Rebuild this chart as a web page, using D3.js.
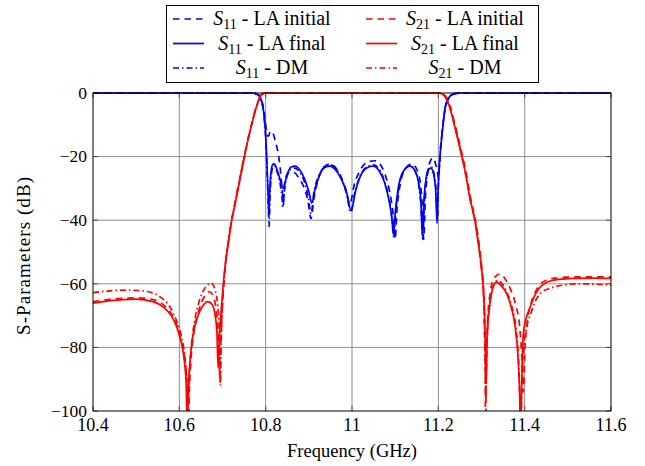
<!DOCTYPE html>
<head>
  <meta charset="utf-8" />
  <script src="https://d3js.org/d3.v7.min.js"></script>
  <style>
    body {
      margin: 0;
      background: #fff;
    }
  </style>
</head>

<body>
  <script>
    // axes ticks
    var xTicks = [10.4, 10.6, 10.8, 11, 11.2, 11.4, 11.6];
    var xTickLabels = ["10.4", "10.6", "10.8", "11", "11.2", "11.4", "11.6"];
    var yTicks = [0, -20, -40, -60, -80, -100];
    var yTickLabels = ["0", "\u221220", "\u221240", "\u221260", "\u221280", "\u2212100"];

    // S11 (reflection), [GHz, dB]
    var s11Initial = [[10.4,0],[10.772,0],[10.779,-0.3],[10.786,-1],[10.790,-2.2],[10.794,-4],[10.798,-7.5],[10.801,-11],[10.804,-13.5],[10.807,-13.5],[10.810,-12.3],[10.813,-12],[10.818,-13],[10.823,-15.5],[10.829,-19],[10.834,-24],[10.838,-30],[10.841,-34],[10.844,-29],[10.848,-26],[10.856,-24.8],[10.866,-25],[10.876,-26.5],[10.888,-29.5],[10.898,-34],[10.905,-39.5],[10.912,-33],[10.922,-27],[10.935,-23.2],[10.949,-22.3],[10.962,-23.5],[10.975,-26.5],[10.986,-30.5],[10.995,-35],[11.005,-29],[11.018,-24.5],[11.035,-21.8],[11.053,-21.3],[11.068,-23],[11.080,-27],[11.090,-33],[11.096,-39],[11.100,-46],[11.104,-37],[11.112,-28.5],[11.124,-23.8],[11.138,-22.3],[11.150,-24],[11.158,-28],[11.163,-36],[11.166,-46],[11.170,-33],[11.176,-24.5],[11.183,-21],[11.188,-20.4],[11.193,-22],[11.198,-25],[11.2005,-26.7],[11.203,-22],[11.206,-16],[11.209,-12],[11.212,-8.5],[11.216,-5],[11.220,-3],[11.226,-1.2],[11.234,-0.4],[11.245,-0.1],[11.26,0],[11.6,0]];
    var s11Final = [[10.4,0],[10.770,0],[10.778,-0.3],[10.785,-0.8],[10.788,-1.5],[10.791,-2.8],[10.794,-4.5],[10.797,-8],[10.800,-13],[10.802,-19],[10.804,-26],[10.806,-33],[10.8075,-39],[10.809,-32],[10.812,-25.5],[10.816,-22.6],[10.820,-22.3],[10.826,-24],[10.833,-27],[10.838,-29.5],[10.841,-30],[10.845,-28],[10.852,-24.8],[10.860,-23.2],[10.868,-23],[10.878,-24],[10.890,-27],[10.900,-31],[10.907,-34.6],[10.914,-30.5],[10.925,-25.8],[10.937,-23.4],[10.949,-23],[10.962,-24.2],[10.975,-27],[10.988,-31.5],[10.998,-37],[11.008,-31],[11.020,-26],[11.035,-23.5],[11.049,-23],[11.063,-24.5],[11.075,-28],[11.086,-34],[11.092,-39],[11.096,-44.5],[11.100,-38],[11.107,-30],[11.118,-24.8],[11.134,-23],[11.146,-24.5],[11.154,-28],[11.160,-35],[11.163,-45],[11.167,-33],[11.172,-26.5],[11.178,-23.9],[11.183,-23.6],[11.189,-25.5],[11.194,-31],[11.197,-41],[11.199,-32],[11.2015,-24.6],[11.205,-18],[11.208,-14],[11.211,-10],[11.2155,-4.7],[11.221,-2.2],[11.227,-1],[11.235,-0.3],[11.245,0],[11.6,0]];
    var s11DM = [[10.4,0],[10.770,0],[10.778,-0.3],[10.785,-0.9],[10.788,-1.6],[10.791,-3],[10.794,-5],[10.797,-8.5],[10.800,-14],[10.802,-20],[10.804,-27],[10.806,-35],[10.808,-42],[10.810,-33],[10.813,-26],[10.817,-23.2],[10.821,-23],[10.827,-25],[10.834,-29],[10.838,-33],[10.840,-36],[10.844,-30],[10.850,-26],[10.858,-24],[10.867,-23.6],[10.878,-24.8],[10.890,-28],[10.899,-33],[10.905,-38],[10.912,-31],[10.924,-25.8],[10.937,-23.2],[10.950,-22.6],[10.963,-23.8],[10.976,-27],[10.988,-32],[10.997,-37.5],[11.007,-31],[11.020,-25.8],[11.035,-23.2],[11.050,-22.6],[11.064,-24.2],[11.076,-28],[11.087,-34],[11.093,-40],[11.097,-45.5],[11.101,-38],[11.108,-30],[11.119,-24.8],[11.134,-22.8],[11.146,-24.5],[11.154,-28.5],[11.160,-36],[11.164,-46],[11.168,-33],[11.173,-26.5],[11.179,-23.5],[11.184,-23.3],[11.190,-25.5],[11.195,-31],[11.198,-40],[11.200,-30],[11.202,-24],[11.205,-17.5],[11.208,-13],[11.211,-9.5],[11.215,-5.5],[11.220,-2.5],[11.227,-1],[11.236,-0.3],[11.246,0],[11.6,0]];

    // S21 (transmission), [GHz, dB]
    var s21Initial = [[10.4,-65.6],[10.45,-64.8],[10.5,-64.4],[10.54,-65],[10.57,-67.5],[10.59,-71.5],[10.603,-77],[10.611,-82],[10.616,-88],[10.619,-95],[10.621,-108],[10.623,-95],[10.627,-84],[10.634,-75],[10.645,-68.5],[10.658,-64],[10.670,-62.5],[10.679,-64],[10.685,-68],[10.689,-74],[10.692,-82],[10.694,-90],[10.696,-80],[10.698,-72],[10.701,-64],[10.704,-58],[10.708,-52.5],[10.712,-48.3],[10.720,-41],[10.728,-35.5],[10.736,-30],[10.743,-25.2],[10.751,-19.8],[10.759,-14.8],[10.767,-10.2],[10.775,-6],[10.782,-3],[10.787,-1.2],[10.792,-0.4],[10.8,0],[11.2,0],[11.207,-0.2],[11.212,-0.5],[11.217,-1.1],[11.223,-2.6],[11.229,-4.9],[11.235,-8],[11.241,-11.2],[11.252,-17.5],[11.264,-24.8],[11.275,-33.2],[11.287,-40.8],[11.295,-48],[11.301,-55.5],[11.305,-62],[11.307,-72],[11.3085,-85],[11.3095,-108],[11.311,-85],[11.314,-72],[11.320,-63],[11.330,-58],[11.343,-56.9],[11.355,-58.5],[11.368,-62],[11.380,-67],[11.388,-73],[11.393,-82],[11.397,-94],[11.400,-82],[11.405,-73],[11.413,-67],[11.425,-62.5],[11.437,-60],[11.452,-58.8],[11.47,-58.2],[11.5,-57.9],[11.55,-57.8],[11.6,-57.8]];
    var s21Final = [[10.4,-66.1],[10.44,-65.3],[10.5,-64.8],[10.539,-65.6],[10.570,-68.2],[10.589,-71.9],[10.601,-76.6],[10.608,-80.8],[10.613,-86],[10.616,-92],[10.6185,-108],[10.621,-93],[10.625,-84],[10.632,-76],[10.642,-70.5],[10.654,-67],[10.666,-65.6],[10.676,-66.5],[10.683,-70],[10.687,-75],[10.690,-86.6],[10.692,-80],[10.694,-74],[10.697,-68.5],[10.700,-63],[10.704,-57],[10.708,-52],[10.713,-47.7],[10.721,-40.4],[10.729,-35],[10.737,-29.5],[10.744,-24.6],[10.752,-19.2],[10.760,-14.2],[10.768,-9.8],[10.7753,-5.8],[10.783,-2.6],[10.787,-1],[10.792,-0.3],[10.8,0],[11.2,0],[11.205,-0.1],[11.210,-0.4],[11.2155,-1],[11.221,-2.6],[11.227,-4.7],[11.233,-7.8],[11.239,-11],[11.250,-17.3],[11.262,-24.6],[11.273,-33],[11.285,-40.4],[11.293,-47.7],[11.300,-55],[11.304,-61.3],[11.307,-68],[11.309,-80],[11.311,-91.3],[11.3125,-80],[11.315,-72],[11.319,-67],[11.325,-62],[11.334,-59.5],[11.345,-60.5],[11.358,-63],[11.370,-68],[11.378,-73.5],[11.385,-84],[11.3885,-95],[11.3905,-108],[11.393,-92],[11.397,-75.6],[11.404,-70.5],[11.412,-67.6],[11.424,-63.5],[11.436,-61],[11.45,-59.6],[11.466,-58.9],[11.49,-58.5],[11.52,-58.3],[11.56,-58.2],[11.6,-58.3]];
    var s21DM = [[10.4,-62.8],[10.44,-62.2],[10.477,-62],[10.516,-62.2],[10.554,-64],[10.578,-67.2],[10.593,-71.4],[10.605,-76.6],[10.612,-82],[10.616,-88],[10.618,-93],[10.620,-98],[10.622,-92],[10.627,-81],[10.635,-72],[10.645,-66],[10.660,-61.2],[10.674,-59.8],[10.683,-62],[10.689,-67],[10.693,-76],[10.695,-92],[10.697,-78],[10.699,-69],[10.702,-62],[10.706,-55.5],[10.711,-49],[10.719,-41.5],[10.727,-35.8],[10.735,-30.2],[10.742,-25.5],[10.750,-20],[10.758,-15],[10.766,-10.5],[10.774,-6.3],[10.781,-3.3],[10.786,-1.6],[10.791,-0.5],[10.8,0],[11.2,0],[11.206,-0.2],[11.211,-0.5],[11.216,-1.1],[11.222,-2.8],[11.228,-5],[11.234,-8.2],[11.240,-11.5],[11.251,-17.8],[11.263,-25],[11.274,-33.5],[11.286,-41],[11.294,-48.5],[11.300,-55.5],[11.304,-62],[11.306,-70],[11.308,-82],[11.310,-96],[11.312,-82],[11.315,-72],[11.320,-65],[11.328,-60.5],[11.337,-59],[11.348,-60],[11.360,-63],[11.372,-68],[11.380,-74],[11.386,-84],[11.3915,-104],[11.394,-90],[11.398,-80],[11.405,-73.5],[11.415,-69],[11.428,-64.6],[11.44,-62.6],[11.459,-61.4],[11.49,-60.4],[11.52,-60],[11.56,-60.1],[11.6,-60.4]];

    var width = 645,
      height = 466;
    var margin = { top: 93, right: 34, bottom: 55, left: 93 };
    var w = width - margin.left - margin.right,
      h = height - margin.top - margin.bottom;

    var svg = d3
      .select("body")
      .append("svg")
      .attr("width", width)
      .attr("height", height);

    var x = d3.scaleLinear().domain([10.4, 11.6]).range([margin.left, margin.left + w]);
    var y = d3.scaleLinear().domain([-100, 0]).range([margin.top + h, margin.top]);

    // grid
    var grid = svg.append("g").attr("stroke", "#8f8f8f").attr("stroke-width", 1);
    grid.selectAll(".gx")
      .data(xTicks.slice(1, -1))
      .join("line")
      .attr("x1", (d) => x(d)).attr("x2", (d) => x(d))
      .attr("y1", margin.top).attr("y2", margin.top + h);
    grid.selectAll(".gy")
      .data(yTicks.slice(1, -1))
      .join("line")
      .attr("y1", (d) => y(d)).attr("y2", (d) => y(d))
      .attr("x1", margin.left).attr("x2", margin.left + w);

    // little inner ticks on every side (pgfplots style)
    var ticks = svg.append("g").attr("stroke", "#333").attr("stroke-width", 0.8);
    xTicks.forEach(function (d) {
      ticks.append("line").attr("x1", x(d)).attr("x2", x(d)).attr("y1", margin.top + h).attr("y2", margin.top + h - 5);
      ticks.append("line").attr("x1", x(d)).attr("x2", x(d)).attr("y1", margin.top).attr("y2", margin.top + 5);
    });
    yTicks.forEach(function (d) {
      ticks.append("line").attr("y1", y(d)).attr("y2", y(d)).attr("x1", margin.left).attr("x2", margin.left + 5);
      ticks.append("line").attr("y1", y(d)).attr("y2", y(d)).attr("x1", margin.left + w).attr("x2", margin.left + w - 5);
    });

    svg.append("clipPath")
      .attr("id", "clip")
      .append("rect")
      .attr("x", margin.left)
      .attr("y", margin.top - 3)
      .attr("width", w)
      .attr("height", h + 3);

    var series = [
      { data: s11Initial, color: "#0000ff", dash: "6.5,5" },
      { data: s21Initial, color: "#ff0000", dash: "6.5,5" },
      { data: s11Final, color: "#0000ff", dash: null },
      { data: s21Final, color: "#ff0000", dash: null },
      { data: s11DM, color: "#0000ff", dash: "6,3,1.5,3" },
      { data: s21DM, color: "#ff0000", dash: "6,3,1.5,3" }
    ];

    var line = d3.line()
      .x((d) => x(d[0]))
      .y((d) => y(d[1]))
      .curve(d3.curveMonotoneX);

    svg.append("g")
      .attr("clip-path", "url(#clip)")
      .selectAll("path")
      .data(series)
      .join("path")
      .attr("d", (d) => line(d.data))
      .attr("fill", "none")
      .attr("stroke", (d) => d.color)
      .attr("stroke-width", 1.7)
      .attr("stroke-linejoin", "round")
      .attr("stroke-dasharray", (d) => d.dash);

    // frame
    svg.append("rect")
      .attr("x", margin.left).attr("y", margin.top)
      .attr("width", w).attr("height", h)
      .attr("fill", "none").attr("stroke", "#000").attr("stroke-width", 1);

    // tick labels
    svg.selectAll(".xl")
      .data(xTicks)
      .join("text")
      .attr("x", (d) => x(d))
      .attr("y", margin.top + h + 20)
      .attr("text-anchor", "middle")
      .attr("font-family", "Liberation Serif")
      .attr("font-size", 18)
      .text((d, i) => xTickLabels[i]);
    svg.selectAll(".yl")
      .data(yTicks)
      .join("text")
      .attr("x", margin.left - 6)
      .attr("y", (d) => y(d))
      .attr("dy", "0.33em")
      .attr("text-anchor", "end")
      .attr("font-family", "Liberation Serif")
      .attr("font-size", 17.5)
      .text((d, i) => yTickLabels[i]);

    // axis titles
    svg.append("text")
      .attr("x", margin.left + w / 2)
      .attr("y", 457)
      .attr("text-anchor", "middle")
      .attr("font-family", "Liberation Serif")
      .attr("font-size", 18.5)
      .text("Frequency (GHz)");
    svg.append("text")
      .attr("transform", "translate(30," + (margin.top + h / 2 + 4) + ") rotate(-90)")
      .attr("text-anchor", "middle")
      .attr("font-family", "Liberation Serif")
      .attr("font-size", 19)
      .attr("textLength", 158)
      .text("S-Parameters (dB)");

    // legend
    var legendItems = [
      { sub: "11", label: " - LA initial", color: "#0000ff", dash: "6.5,5" },
      { sub: "21", label: " - LA initial", color: "#ff0000", dash: "6.5,5" },
      { sub: "11", label: " - LA final", color: "#0000ff", dash: null },
      { sub: "21", label: " - LA final", color: "#ff0000", dash: null },
      { sub: "11", label: " - DM", color: "#0000ff", dash: "6,3,1.5,3" },
      { sub: "21", label: " - DM", color: "#ff0000", dash: "6,3,1.5,3" }
    ];
    var legend = svg.append("g");
    legend.append("rect")
      .attr("x", 166.5).attr("y", 5.5)
      .attr("width", 372).attr("height", 77)
      .attr("fill", "#fff").attr("stroke", "#000").attr("stroke-width", 1);

    legendItems.forEach(function (d, i) {
      var col = i % 2,
        row = Math.floor(i / 2);
      var lx = col == 0 ? 173 : 366,
        tx = col == 0 ? 272 : 465,
        ly = 19 + row * 24.5;
      legend.append("line")
        .attr("x1", lx).attr("x2", lx + 31)
        .attr("y1", ly).attr("y2", ly)
        .attr("stroke", d.color)
        .attr("stroke-width", 1.7)
        .attr("stroke-dasharray", d.dash);
      var t = legend.append("text")
        .attr("x", tx)
        .attr("y", ly + 6)
        .attr("text-anchor", "middle")
        .attr("font-family", "Liberation Serif")
        .attr("font-size", 20);
      t.append("tspan").attr("font-style", "italic").text("S");
      t.append("tspan").attr("dy", 4).attr("font-size", 14).text(d.sub);
      t.append("tspan").attr("dy", -4).text(d.label);
    });
  </script>
</body>
